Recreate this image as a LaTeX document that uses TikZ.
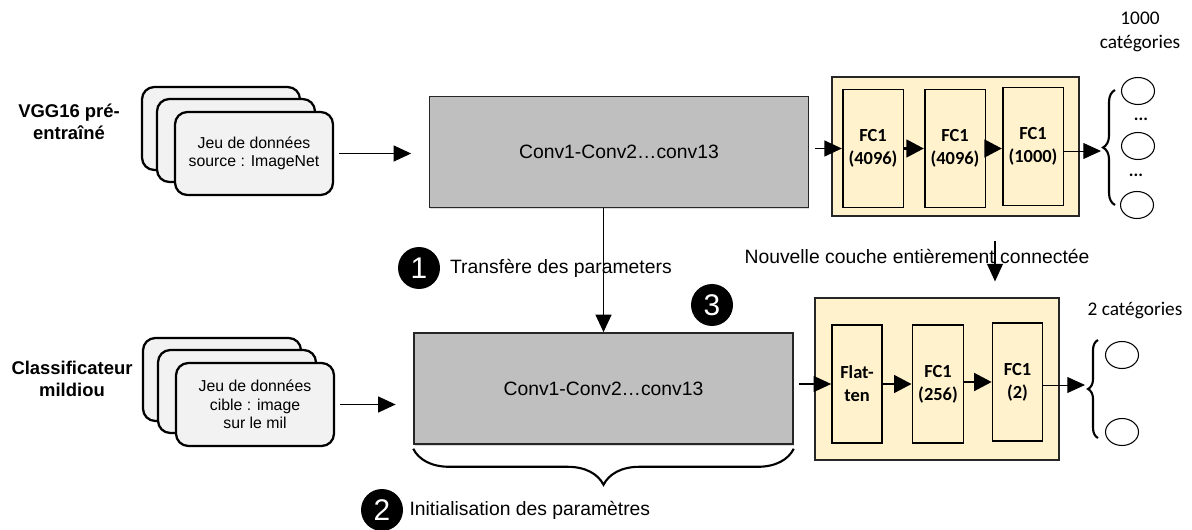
\documentclass[tikz,border=0pt]{standalone}
\usepackage{fontspec}
\setmainfont{Liberation Sans}
\newfontfamily\calib{Carlito}
\usepackage{xcolor}
\usetikzlibrary{positioning,arrows.meta,calc,shapes.geometric,shadows,decorations.pathreplacing}
\definecolor{card}{HTML}{F2F2F2}
\definecolor{convgray}{HTML}{BFBFBF}
\definecolor{cream}{HTML}{FFF2CC}
\definecolor{edge}{HTML}{262626}

\tikzset{
  datacard/.style={draw=black,line width=1.3pt,rounded corners=7pt,fill=card,minimum width=3.16cm,minimum height=1.66cm,align=center,font=\fontsize{9}{10.5}\selectfont},
  convbox/.style={draw=edge,line width=0.9pt,fill=convgray,minimum width=7.58cm,minimum height=2.22cm,font=\fontsize{11}{13}\selectfont,drop shadow={shadow xshift=0.5pt,shadow yshift=-1pt,opacity=.3}},
  fcpanel/.style={draw=edge,line width=0.9pt,fill=cream},
  fcbox/.style={draw=black,line width=0.9pt,fill=cream,minimum width=1cm,minimum height=2.36cm,align=center,font=\calib\bfseries\fontsize{10.5}{13}\selectfont},
  outcirc/.style={draw=black,line width=0.6pt,ellipse,minimum width=0.66cm,minimum height=0.54cm},
  stepdot/.style={circle,fill=black,text=white,minimum size=0.84cm,inner sep=0pt,font=\fontsize{17}{17}\selectfont},
  arr/.style={line width=1.1pt,-{Triangle[length=10pt,width=9pt]}},
  fcarr/.style={line width=1.7pt,-{Triangle[length=10pt,width=10pt]}},
  thinarr/.style={line width=0.5pt,-{Triangle[length=10pt,width=9pt]}},
  lbl/.style={font=\fontsize{11}{13}\selectfont},
  side/.style={font=\bfseries\fontsize{10.5}{12.5}\selectfont,align=center},
  cat/.style={font=\calib\fontsize{11}{13.5}\selectfont,align=center},
  brc/.style={decorate,line width=1.2pt,decoration={brace,amplitude=#1}},
}

\begin{document}
\begin{tikzpicture}[x=0.02cm,y=-0.02cm]
  \useasboundingbox (0,0) rectangle (1192,530);

  % pretrained VGG16 (top row)
  \node[side] (side1) at (69,122) {VGG16 pré-\\entraîné};
  \node[datacard] (srcA) at (221,128.5) {};
  \node[datacard] (srcB) at (236,140.5) {};
  \node[datacard] (src) at (254,153.5) {Jeu de données\\source : ImageNet};
  \node[convbox] (conv1) at (619,152) {Conv1-Conv2\dots conv13};

  \node[fcpanel,minimum width=4.94cm,minimum height=2.78cm] (fcpan1) at (955.5,146.5) {};
  \node[fcbox] (fca) at (873,148.5) {FC1\\(4096)};
  \node[fcbox] (fcb) at (955,148.5) {FC1\\(4096)};
  \node[fcbox] (fcc) at (1033,146.5) {FC1\\(1000)};

  \draw[brc=0.24cm] (1115,205) -- (1115,90);
  \coordinate (br1) at (1101,151);
  \node[outcirc] (o1) at (1138,91) {};
  \node[font=\calib\bfseries] (dots1) at (1141,119) {...};
  \node[outcirc] (o2) at (1138,146) {};
  \node[font=\calib\bfseries] (dots2) at (1136,175) {...};
  \node[outcirc] (o3) at (1137,205) {};
  \node[cat] (cat1) at (1140,32) {1000\\catégories};

  \draw[arr,shorten <=3pt,shorten >=10pt] (src.east) -- (src.east -| conv1.west);
  \draw[arr,shorten <=3pt] (conv1.east |- fca.west) -- (fca.west);
  \draw[fcarr] (fca) -- (fcb);
  \draw[fcarr] (fcb.east) -- (fcb.east -| fcc.west);
  \draw[thinarr] (fcc.east |- br1) -- (br1);

  % transfer step
  \node[stepdot] (step1) at (419,268) {1};
  \node[lbl,right=2pt of step1] (t1) {Transfère des parameters};
  \node[stepdot] (step3) at (712,305) {3};
  \node[lbl] (t3) at (917,256) {Nouvelle couche entièrement connectée};
  \coordinate (nc) at (995,241);

  % mildiou classifier (bottom row)
  \node[side] (side2) at (72,379) {Classificateur\\mildiou};
  \node[datacard] (tgtA) at (222,379.5) {};
  \node[datacard] (tgtB) at (237,391.5) {};
  \node[datacard] (tgt) at (255,404.5) {Jeu de données\\cible : image\\sur le mil};
  \node[convbox] (conv2) at (603.5,388.5) {Conv1-Conv2\dots conv13};

  \node[fcpanel,minimum width=4.88cm,minimum height=3.24cm] (fcpan2) at (937,379) {};
  \node[fcbox] (flat) at (857,384) {Flat-\\ten};
  \node[fcbox] (fcd) at (938,384) {FC1\\(256)};
  \node[fcbox] (fce) at (1017.5,382) {FC1\\(2)};

  \draw[brc=0.2cm] (1098,438) -- (1098,340);
  \coordinate (br2) at (1085,385);
  \node[outcirc] (p1) at (1122,355) {};
  \node[outcirc] (p2) at (1122,432) {};
  \node[cat] (cat2) at (1135,311) {2 catégories};

  \draw[arr,shorten <=3pt,shorten >=10pt] (tgt.east) -- (tgt.east -| conv2.west);
  \draw[arr,shorten <=3pt] (conv2.east |- flat.west) -- (flat.west);
  \draw[fcarr] (flat) -- (fcd);
  \draw[fcarr] (fcd.east |- fce.west) -- (fce.west);
  \draw[thinarr] (fce.east |- br2) -- (br2);

  \draw[arr] (conv1.south -| conv2.north) -- (conv2.north);
  \draw[thinarr,line width=0.8pt,shorten >=9pt] (nc) -- (nc |- fcpan2.north);

  % initialisation
  \draw[brc=0.72cm] ($(conv2.south east)+(0,4)$) -- ($(conv2.south west)+(0,4)$);
  \node[stepdot] (step2) at (382,510) {2};
  \node[lbl,right=0pt of step2] (t2) {Initialisation des paramètres};
\end{tikzpicture}
\end{document}
